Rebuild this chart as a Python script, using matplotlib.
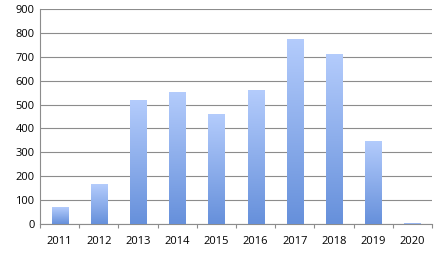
import numpy as np
import matplotlib
matplotlib.use("Agg")
import matplotlib.pyplot as plt
from matplotlib.colors import LinearSegmentedColormap

# valores
anos = ["2011", "2012", "2013", "2014", "2015", "2016", "2017", "2018", "2019", "2020"]
valores = [70, 167, 518, 553, 460, 560, 775, 713, 349, 3]
y_ticks = [0, 100, 200, 300, 400, 500, 600, 700, 800, 900]

plt.rcParams['font.family'] = ['Open Sans', 'DejaVu Sans']

fig = plt.figure(figsize=(4.43, 2.62), dpi=100)
ax = fig.add_axes([40 / 443, 38 / 262, 392 / 443, 215 / 262])

x = np.arange(len(anos))
bars = ax.bar(x, valores, width=0.41, color="none", edgecolor="none", zorder=3)

cmap = LinearSegmentedColormap.from_list("grad", ["#6690db", "#b4ccfc"])
grad = np.linspace(0, 1, 256).reshape(-1, 1)
for b in bars:
    x0, y0 = b.get_x(), b.get_y()
    w, h = b.get_width(), b.get_height()
    if h <= 0:
        continue
    im = ax.imshow(grad, cmap=cmap, origin="lower", aspect="auto",
                   extent=[x0, x0 + w, y0, y0 + h], zorder=3)
    im.set_clip_path(b)

ax.set_xlim(-0.5, len(anos) - 0.5)
ax.set_ylim(0, 900)
ax.set_yticks(y_ticks)
ax.set_yticklabels([str(v) for v in y_ticks], fontsize=8)
ax.yaxis.grid(True, color="#8c8c8c", linewidth=0.8)
ax.set_axisbelow(True)
ax.tick_params(axis="y", length=0, pad=4)

# ticks entre categorias, labels centrados
ax.set_xticks(np.arange(len(anos) + 1) - 0.5)
ax.set_xticklabels([])
ax.set_xticks(x, minor=True)
ax.set_xticklabels(anos, minor=True, fontsize=8)
ax.tick_params(axis="x", which="major", length=3, color="#8c8c8c", direction="out")
ax.tick_params(axis="x", which="minor", length=0, pad=9)

for s in ["top", "right"]:
    ax.spines[s].set_visible(False)
ax.spines["left"].set_color("#8c8c8c")
ax.spines["bottom"].set_color("#8c8c8c")

fig.savefig("out.png", dpi=100)
